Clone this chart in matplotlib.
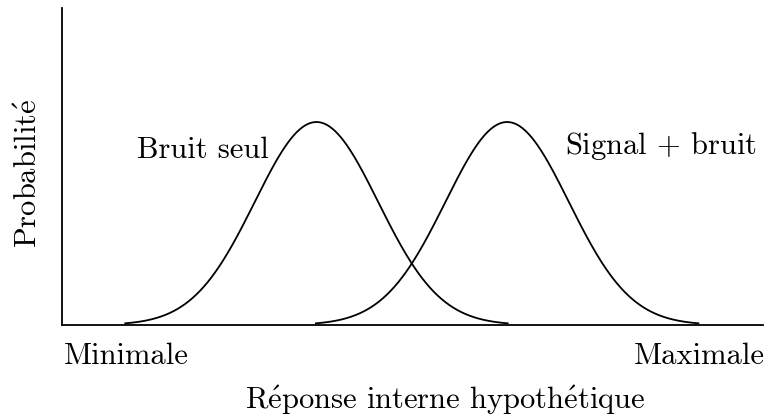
import matplotlib
matplotlib.use('Agg')
import matplotlib.pyplot as plt
import numpy as np

plt.rcParams['font.family'] = ['cmr10', 'DejaVu Serif']
plt.rcParams['mathtext.fontset'] = 'cm'

# two normal distributions (position on the hypothetical response axis, 0..10)
names = ['Bruit seul', r'Signal $+$ bruit']
means = [3.63, 6.35]
sd = 0.88
span = 3.1  # curves drawn over +/- span * sd
ymax = 0.708

xlabel = r'R$\mathrm{\acute{e}}$ponse interne hypoth$\mathrm{\acute{e}}$tique'
ylabel = r'Probabilit$\mathrm{\acute{e}}$'
ends = ['Minimale', 'Maximale']

W, H = 768, 420
fig = plt.figure(figsize=(W / 100, H / 100), dpi=100)
ax = fig.add_axes([62 / W, 1 - 325 / H, 701 / W, 317 / H])

for mu in means:
    x = np.linspace(mu - span * sd, mu + span * sd, 400)
    y = np.exp(-0.5 * ((x - mu) / sd) ** 2) / (sd * np.sqrt(2 * np.pi))
    ax.plot(x, y, 'k-', lw=1.3)

ax.set_xlim(0, 10)
ax.set_ylim(0, ymax)
ax.set_xticks([])
ax.set_yticks([])
for s in ['top', 'right']:
    ax.spines[s].set_visible(False)
for s in ['left', 'bottom']:
    ax.spines[s].set_linewidth(1.3)

fs = 22
def px(x, y):
    return x / W, 1 - y / H

fig.text(*px(137, 158), names[0], fontsize=fs, ha='left', va='baseline')
fig.text(*px(565, 154), names[1], fontsize=fs, ha='left', va='baseline')
fig.text(*px(64, 364), ends[0], fontsize=fs, ha='left', va='baseline')
fig.text(*px(765, 364), ends[1], fontsize=fs, ha='right', va='baseline')
fig.text(*px(445, 409), xlabel, fontsize=fs, ha='center', va='baseline')
fig.text(*px(37, 173), ylabel, fontsize=fs, ha='center', va='baseline',
         rotation=90, rotation_mode='anchor')

fig.savefig('out.png', dpi=100)
